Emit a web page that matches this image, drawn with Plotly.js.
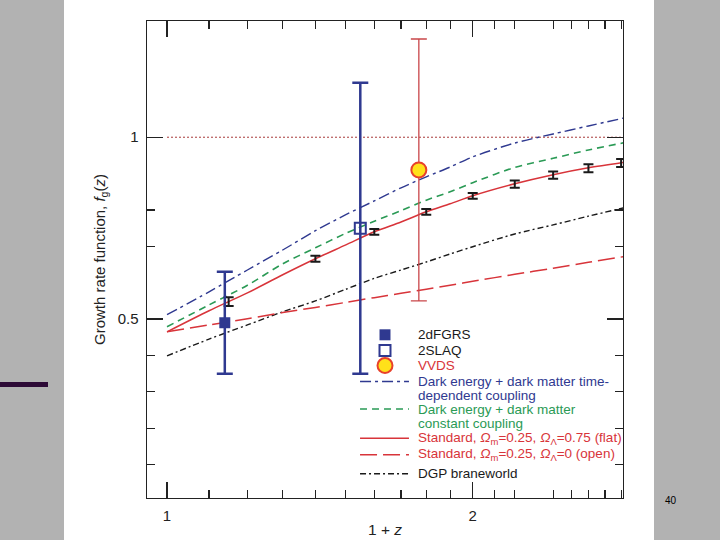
<!DOCTYPE html>
<html>
<head>
<meta charset="utf-8">
<script src="https://cdn.plot.ly/plotly-3.0.1.min.js"></script>
<style>
  html, body { margin: 0; padding: 0; }
  body {
    width: 720px; height: 540px; overflow: hidden;
    background: linear-gradient(to right, #b2b2b2 0px, #b2b2b2 64px, #ffffff 64px, #ffffff 654px, #b2b2b2 654px, #b2b2b2 720px);
    position: relative;
  }
  #bar { position: absolute; left: 0; top: 382px; width: 48px; height: 5px; background: #2d0a36; }
  #chart { position: absolute; left: 0; top: 0; width: 720px; height: 540px; }
</style>
</head>
<body>
<div id="bar"></div>
<div id="chart"></div>
<script>
// ---- data ----
const xModel   = [1.0, 1.1, 1.2, 1.3, 1.4, 1.5, 1.6, 1.7, 1.8, 1.9, 2.0, 2.2, 2.4, 2.6, 2.82];
const fTimeDep = [0.512, 0.575, 0.635, 0.690, 0.743, 0.787, 0.825, 0.861, 0.891, 0.918, 0.946, 0.984, 1.009, 1.031, 1.053];
const fConst   = [0.479, 0.539, 0.593, 0.652, 0.696, 0.736, 0.769, 0.798, 0.827, 0.850, 0.875, 0.917, 0.942, 0.965, 0.985];
const fFlat    = [0.465, 0.523, 0.572, 0.622, 0.666, 0.704, 0.740, 0.767, 0.795, 0.817, 0.839, 0.872, 0.897, 0.916, 0.931];
const fOpen    = [0.465, 0.484, 0.501, 0.518, 0.532, 0.546, 0.559, 0.571, 0.582, 0.593, 0.604, 0.623, 0.640, 0.656, 0.672];
const fDGP     = [0.399, 0.445, 0.484, 0.520, 0.550, 0.582, 0.612, 0.635, 0.657, 0.679, 0.699, 0.734, 0.759, 0.783, 0.806];

const unityX = [1.0, 2.82];
const unityY = [1.0, 1.0];

const futureX   = [1.15, 1.4, 1.6, 1.8, 2.0, 2.2, 2.4, 2.6, 2.8];
const futureY   = [0.548, 0.666, 0.740, 0.795, 0.839, 0.871, 0.896, 0.915, 0.929];
const futureErr = [0.012, 0.008, 0.008, 0.008, 0.008, 0.010, 0.010, 0.011, 0.011];

const twodfX = [1.14], twodfY = [0.49], twodfErr = [0.14];
const slaqX  = [1.55], slaqY  = [0.75], slaqErr  = [0.40];
const vvdsX  = [1.77], vvdsY  = [0.91], vvdsErr  = [0.36];

const xTickVals = [1, 2];
const xTickText = ['1', '2'];
const xMinorVals = [1.1, 1.2, 1.3, 1.4, 1.5, 1.6, 1.7, 1.8, 1.9, 2.1, 2.2, 2.4, 2.5, 2.6, 2.7, 2.8];
const yTickVals = [0.5, 1];
const yTickText = ['0.5', '1'];
const yMinorVals = [0.1, 0.2, 0.3, 0.4, 0.7, 0.8];

const legendLabels = [
  '2dFGRS', '2SLAQ', 'VVDS',
  'Dark energy + dark matter time-', 'dependent coupling',
  'Dark energy + dark matter', 'constant coupling',
  'Standard, <i>Ω</i><sub>m</sub>=0.25, <i>Ω</i><sub>Λ</sub>=0.75 (flat)',
  'Standard, <i>Ω</i><sub>m</sub>=0.25, <i>Ω</i><sub>Λ</sub>=0 (open)',
  'DGP braneworld'
];

// ---- styling ----
const NAVY = '#2f3990', GREEN = '#2a9a55', RED = '#d8343a', BLACK = '#1a1a1a';
const FONT = 'Liberation Sans, Arial, Helvetica, sans-serif';
const SM = {shape: 'spline', smoothing: 0.8};

const traces = [
  {x: unityX, y: unityY, mode: 'lines', line: {color: '#a83a3a', width: 1, dash: '2px,2px'}, hoverinfo: 'skip'},
  {x: xModel, y: fDGP, mode: 'lines', line: Object.assign({color: BLACK, width: 1.4, dash: '6px,3px,2px,3px'}, SM)},
  {x: xModel, y: fOpen, mode: 'lines', line: Object.assign({color: RED, width: 1.5, dash: '17px,6px'}, SM)},
  {x: xModel, y: fFlat, mode: 'lines', line: Object.assign({color: RED, width: 1.5}, SM)},
  {x: xModel, y: fConst, mode: 'lines', line: Object.assign({color: GREEN, width: 1.6, dash: '7px,5px'}, SM)},
  {x: xModel, y: fTimeDep, mode: 'lines', line: Object.assign({color: NAVY, width: 1.4, dash: '11px,4px,3px,4px'}, SM)},
  {x: futureX, y: futureY, mode: 'markers', marker: {size: 1, color: BLACK},
   error_y: {type: 'data', array: futureErr, color: BLACK, thickness: 2, width: 5}},
  {x: twodfX, y: twodfY, mode: 'markers', marker: {symbol: 'square', size: 11, color: NAVY},
   error_y: {type: 'data', array: twodfErr, color: NAVY, thickness: 2.5, width: 8}},
  {x: slaqX, y: slaqY, mode: 'markers', marker: {symbol: 'square-open', size: 11, color: NAVY, line: {width: 2}},
   error_y: {type: 'data', array: slaqErr, color: NAVY, thickness: 2.5, width: 8}},
  {x: vvdsX, y: vvdsY, mode: 'markers', marker: {symbol: 'circle', size: 15, color: '#ffe11a', line: {color: '#e8412b', width: 2}},
   error_y: {type: 'data', array: vvdsErr, color: '#c9474a', thickness: 1.3, width: 8}}
];
traces.forEach(t => { t.showlegend = false; t.type = 'scatter'; });

// custom legend (pixel rows converted to paper fractions of the plot area)
const W = 476.6, H = 477.3, L = 146.7, B = 498.3;
const px = v => (v - L) / W;
const py = v => (B - v) / H;
const textRows = [335, 350.7, 365.7, 381.7, 395.5, 409.3, 423.5, 438.8, 455, 474];
const textColors = [BLACK, BLACK, RED, NAVY, NAVY, GREEN, GREEN, RED, RED, BLACK];

const annotations = legendLabels.map((t, i) => ({
  text: t, xref: 'paper', yref: 'paper', x: px(416), y: py(textRows[i]),
  xanchor: 'left', yanchor: 'middle', showarrow: false,
  font: {family: FONT, size: 13.5, color: textColors[i]}
}));
annotations.push({text: '40', xref: 'paper', yref: 'paper', x: px(671), y: py(501),
  xanchor: 'center', yanchor: 'middle', showarrow: false, font: {family: FONT, size: 10, color: '#000'}});

const sx0 = px(360), sx1 = px(409), cx = px(385);
const hx = 5.5 / W, hy = 5.5 / H, rx = 7.5 / W, ry = 7.5 / H;
const shapes = [
  {type: 'rect', xref: 'paper', yref: 'paper', x0: cx - hx, x1: cx + hx, y0: py(335) - hy, y1: py(335) + hy,
   fillcolor: NAVY, line: {width: 0}},
  {type: 'rect', xref: 'paper', yref: 'paper', x0: cx - hx, x1: cx + hx, y0: py(350.7) - hy, y1: py(350.7) + hy,
   fillcolor: 'white', line: {color: NAVY, width: 2}},
  {type: 'circle', xref: 'paper', yref: 'paper', x0: cx - rx, x1: cx + rx, y0: py(365.7) - ry, y1: py(365.7) + ry,
   fillcolor: '#ffe11a', line: {color: '#e8412b', width: 2}},
  {type: 'line', xref: 'paper', yref: 'paper', x0: sx0, x1: sx1, y0: py(381.7), y1: py(381.7),
   line: {color: NAVY, width: 1.4, dash: '11px,4px,3px,4px'}},
  {type: 'line', xref: 'paper', yref: 'paper', x0: sx0, x1: sx1, y0: py(409.3), y1: py(409.3),
   line: {color: GREEN, width: 1.6, dash: '7px,5px'}},
  {type: 'line', xref: 'paper', yref: 'paper', x0: sx0, x1: sx1, y0: py(438.5), y1: py(438.5),
   line: {color: RED, width: 1.5}},
  {type: 'line', xref: 'paper', yref: 'paper', x0: sx0, x1: sx1, y0: py(455), y1: py(455),
   line: {color: RED, width: 1.5, dash: '17px,6px'}},
  {type: 'line', xref: 'paper', yref: 'paper', x0: sx0, x1: sx1, y0: py(474), y1: py(474),
   line: {color: BLACK, width: 1.4, dash: '6px,3px,2px,3px'}}
];

const axisCommon = {
  showgrid: false, zeroline: false, showline: true, linecolor: '#222', linewidth: 1.4,
  mirror: 'ticks', ticks: 'inside', ticklen: 16, tickwidth: 1.3, tickcolor: '#222',
  tickfont: {family: FONT, size: 15, color: '#222'}, tickmode: 'array'
};

const layout = {
  width: 720, height: 540,
  margin: {l: 147, r: 97, t: 21, b: 42},
  paper_bgcolor: 'rgba(0,0,0,0)', plot_bgcolor: 'white',
  showlegend: false,
  xaxis: Object.assign({}, axisCommon, {
    type: 'log', range: [-0.0197, 0.449],
    tickvals: xTickVals, ticktext: xTickText, ticklabelstandoff: 4,
    minor: {tickmode: 'array', tickvals: xMinorVals, ticks: 'inside', ticklen: 8, tickwidth: 1.2, tickcolor: '#222'},
    title: {text: '1 + <i>z</i>', font: {family: FONT, size: 15.5, color: '#222'}, standoff: 0}
  }),
  yaxis: Object.assign({}, axisCommon, {
    range: [0.0082, 1.3195],
    tickvals: yTickVals, ticktext: yTickText, ticklabelstandoff: 4,
    minor: {tickmode: 'array', tickvals: yMinorVals, ticks: 'inside', ticklen: 8, tickwidth: 1.2, tickcolor: '#222'},
    title: {text: 'Growth rate function, <i>f</i><sub>g</sub>(<i>z</i>)', font: {family: FONT, size: 15, color: '#222'}, standoff: 8}
  }),
  annotations: annotations,
  shapes: shapes
};

Plotly.newPlot('chart', traces, layout, {displayModeBar: false, staticPlot: true});
</script>
</body>
</html>
